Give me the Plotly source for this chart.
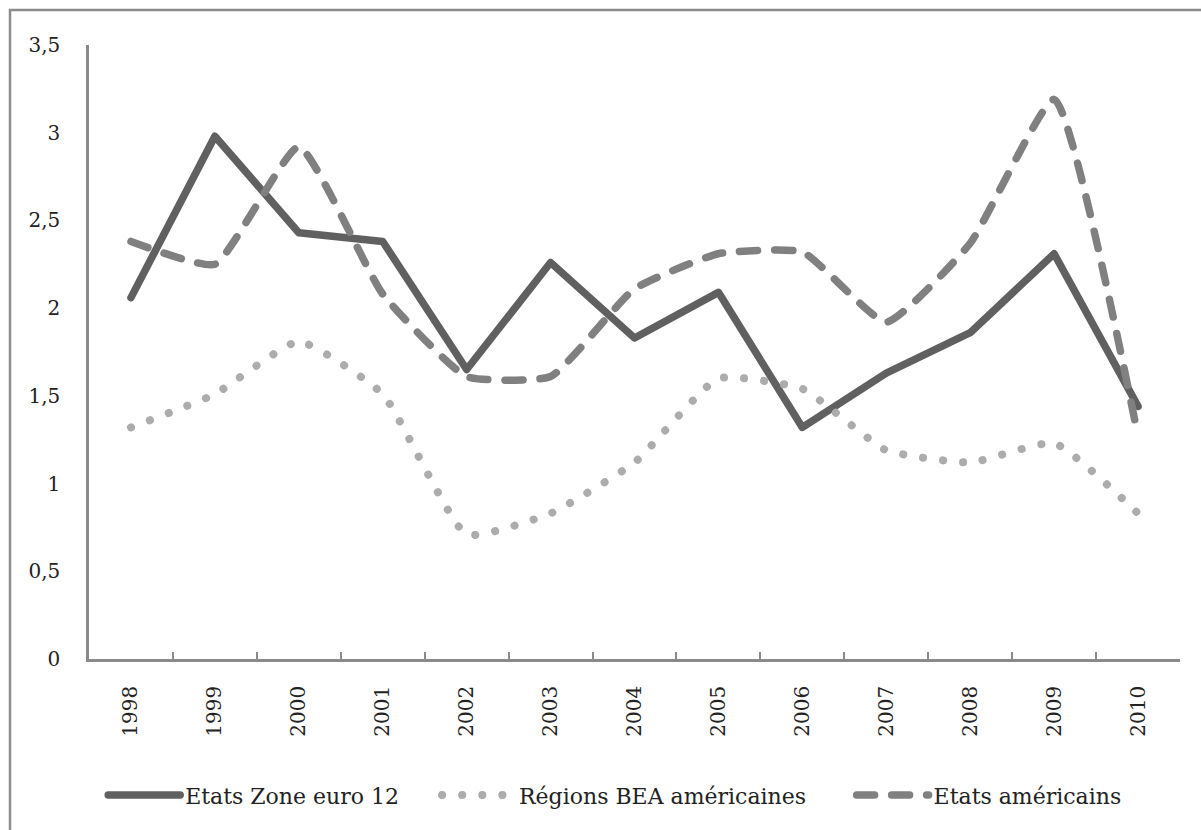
import plotly.graph_objects as go

years = ["1998", "1999", "2000", "2001", "2002", "2003", "2004",
         "2005", "2006", "2007", "2008", "2009", "2010"]
zone_euro = [2.06, 2.98, 2.43, 2.38, 1.65, 2.26, 1.83, 2.09, 1.32, 1.63, 1.86, 2.31, 1.44]
regions_bea = [1.32, 1.51, 1.81, 1.51, 0.71, 0.83, 1.12, 1.60, 1.54, 1.19, 1.12, 1.23, 0.83]
etats_us = [2.38, 2.25, 2.92, 2.08, 1.61, 1.61, 2.11, 2.31, 2.32, 1.92, 2.37, 3.19, 1.27]

FONT = "DejaVu Serif"
TXT = "#222222"

fig = go.Figure()
fig.add_trace(go.Scatter(x=years, y=zone_euro, mode="lines", name="Etats Zone euro 12",
                         legend="legend",
                         line=dict(color="#606060", width=7.5)))
fig.add_trace(go.Scatter(x=years, y=regions_bea, mode="lines", name="Régions BEA américaines",
                         legend="legend2",
                         line=dict(color="#acacac", width=8, dash="0.1px,20px",
                                   shape="spline", smoothing=0.45)))
fig.add_trace(go.Scatter(x=years, y=etats_us, mode="lines", name="Etats américains",
                         legend="legend3",
                         line=dict(color="#808080", width=7.5, dash="18px,17px",
                                   shape="spline", smoothing=0.45)))

leg_common = dict(orientation="h", y=-0.222, xanchor="left", yanchor="middle",
                  font=dict(family=FONT, size=22, color=TXT), itemwidth=72,
                  bgcolor="rgba(0,0,0,0)")

fig.update_layout(
    width=1201, height=830,
    margin=dict(l=89, r=21, t=45, b=171),
    paper_bgcolor="white", plot_bgcolor="white",
    separators=", ",
    font=dict(family=FONT, size=20, color=TXT),
    showlegend=True,
    legend=dict(x=0.013, **leg_common),
    legend2=dict(x=0.319, **leg_common),
    legend3=dict(x=0.699, **leg_common),
    xaxis=dict(type="category", showline=True, linecolor="#8a8a8a", linewidth=2.5,
               ticks="inside", tickson="boundaries", ticklen=7, tickcolor="#8a8a8a",
               tickwidth=2, tickangle=-90, showgrid=False, zeroline=False,
               ticklabelstandoff=16, range=[-0.5, 12.5]),
    yaxis=dict(range=[0, 3.5], dtick=0.5, tick0=0, showline=True, linecolor="#8a8a8a",
               linewidth=2.5, ticks="", showgrid=False, zeroline=False,
               ticklabelstandoff=22),
    shapes=[dict(type="rect", xref="paper", yref="paper",
                 x0=-0.0724, x1=1.1, y0=-0.35, y1=1.057,
                 line=dict(color="#8c8c8c", width=2.5), fillcolor="rgba(0,0,0,0)",
                 layer="below")],
)

post = """
document.body.style.margin = '0';
var s = document.createElement('style');
s.innerHTML = 'body{margin:0 !important;} .js-line, .legendlines path { stroke-linecap: round !important; stroke-linejoin: round !important; }';
document.head.appendChild(s);
"""
fig.write_html("out.html", post_script=post, config={"displayModeBar": False})
